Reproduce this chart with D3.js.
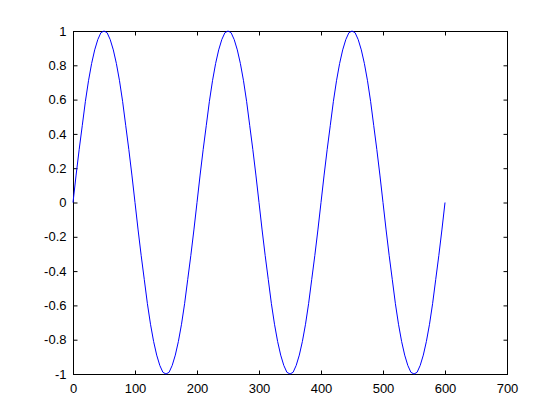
<!DOCTYPE html>
<html>
<head>
<meta charset="utf-8">
<script src="https://cdn.jsdelivr.net/npm/d3@7"></script>
<style>
  body { margin: 0; background: #fff; }
  svg { display: block; }
  .tick text { font-family: "Liberation Sans", Arial, sans-serif; font-size: 13px; fill: #000; }
</style>
</head>
<body>
<svg width="560" height="420"></svg>
<script>
// tick labels
var xTicks = [0, 100, 200, 300, 400, 500, 600, 700];
var yTicks = [-1, -0.8, -0.6, -0.4, -0.2, 0, 0.2, 0.4, 0.6, 0.8, 1];

var xStep = 5;
var yValues = [
  0, 0.16, 0.31, 0.45, 0.59, 0.71, 0.81, 0.89, 0.95, 0.99, 1, 0.99, 0.95, 0.89, 0.81, 0.71, 0.59, 0.45, 0.31, 0.16,
  0, -0.16, -0.31, -0.45, -0.59, -0.71, -0.81, -0.89, -0.95, -0.99, -1, -0.99, -0.95, -0.89, -0.81, -0.71, -0.59, -0.45, -0.31, -0.16,
  0, 0.16, 0.31, 0.45, 0.59, 0.71, 0.81, 0.89, 0.95, 0.99, 1, 0.99, 0.95, 0.89, 0.81, 0.71, 0.59, 0.45, 0.31, 0.16,
  0, -0.16, -0.31, -0.45, -0.59, -0.71, -0.81, -0.89, -0.95, -0.99, -1, -0.99, -0.95, -0.89, -0.81, -0.71, -0.59, -0.45, -0.31, -0.16,
  0, 0.16, 0.31, 0.45, 0.59, 0.71, 0.81, 0.89, 0.95, 0.99, 1, 0.99, 0.95, 0.89, 0.81, 0.71, 0.59, 0.45, 0.31, 0.16,
  0, -0.16, -0.31, -0.45, -0.59, -0.71, -0.81, -0.89, -0.95, -0.99, -1, -0.99, -0.95, -0.89, -0.81, -0.71, -0.59, -0.45, -0.31, -0.16,
  0
];

// plot box edges in pixels
var boxLeft = 73, boxRight = 507, boxTop = 31, boxBottom = 374;

var svg = d3.select("svg");

var xScale = d3.scaleLinear().domain([0, 700]).range([boxLeft, boxRight]);
var yScale = d3.scaleLinear().domain([-1, 1]).range([boxBottom, boxTop]);

// box
svg.append("rect")
  .attr("x", boxLeft + 0.5)
  .attr("y", boxTop + 0.5)
  .attr("width", boxRight - boxLeft)
  .attr("height", boxBottom - boxTop)
  .attr("fill", "#fff")
  .attr("stroke", "#000")
  .attr("stroke-width", 1);

// bottom axis, ticks pointing in
svg.append("g")
  .attr("transform", `translate(0,${boxBottom + 0.5})`)
  .call(d3.axisBottom(xScale).tickValues(xTicks).tickSize(-4).tickPadding(9).tickFormat(d3.format("d")))
  .call(g => g.select(".domain").remove());

// top axis, ticks only
svg.append("g")
  .attr("transform", `translate(0,${boxTop + 0.5})`)
  .call(d3.axisTop(xScale).tickValues(xTicks).tickSize(-4).tickFormat(""))
  .call(g => g.select(".domain").remove());

// left axis
svg.append("g")
  .attr("transform", `translate(${boxLeft + 0.5},0)`)
  .call(d3.axisLeft(yScale).tickValues(yTicks).tickSize(-4).tickPadding(7).tickFormat(d => String(+d.toFixed(1))))
  .call(g => g.select(".domain").remove());

// right axis, ticks only
svg.append("g")
  .attr("transform", `translate(${boxRight + 0.5},0)`)
  .call(d3.axisRight(yScale).tickValues(yTicks).tickSize(-4).tickFormat(""))
  .call(g => g.select(".domain").remove());

svg.selectAll(".tick line").attr("stroke", "#000");

// the curve
var line = d3.line()
  .x((d, i) => xScale(i * xStep))
  .y(d => yScale(d));

svg.append("path")
  .datum(yValues)
  .attr("d", line)
  .attr("fill", "none")
  .attr("stroke", "#0000ff")
  .attr("stroke-width", 1);
</script>
</body>
</html>
